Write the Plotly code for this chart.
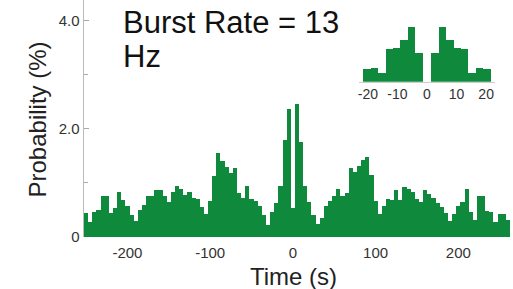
import plotly.graph_objects as go

# ---- main histogram (5 s bins, centres -250 ... 260 s) ----
bin_width = 5
first_centre = -250
prob_pct = [
    0.45, 0.27, 0.47, 0.50, 0.75, 0.75, 0.45, 0.54, 0.84, 0.69,
    0.58, 0.41, 0.30, 0.50, 0.60, 0.76, 0.76, 0.87, 0.87, 0.75,
    0.65, 0.84, 0.94, 0.89, 0.78, 0.84, 0.72, 0.71, 0.55, 0.42,
    0.66, 1.12, 1.55, 1.41, 1.30, 1.18, 1.27, 0.82, 0.72, 0.95,
    0.70, 0.66, 0.57, 0.41, 0.23, 0.47, 0.63, 0.95, 1.80, 2.37,
    0.54,
    2.45, 1.76, 0.95, 0.64, 0.40, 0.24, 0.36, 0.58, 0.67, 0.76,
    0.88, 0.75, 0.81, 1.27, 1.20, 1.31, 1.42, 1.48, 1.14, 0.67,
    0.42, 0.57, 0.70, 0.69, 0.87, 0.69, 0.93, 0.89, 0.83, 0.70,
    0.64, 0.87, 0.80, 0.73, 0.62, 0.55, 0.44, 0.29, 0.42, 0.58,
    0.65, 0.89, 0.47, 0.32, 0.75, 0.75, 0.48, 0.46, 0.28, 0.42,
    0.42, 0.32,
]
time_s = [first_centre + bin_width * i for i in range(len(prob_pct))]

x_ticks = [-200, -100, 0, 100, 200]
x_ticklabels = ["-200", "-100", "0", "100", "200"]
y_ticks = [0, 2, 4]
y_ticklabels = ["0", "2.0", "4.0"]
y_minor = [1, 3]

# ---- inset histogram (intra-burst intervals) ----
inset_width = 2.5
inset_x = [-20.25, -17.75, -15.25, -12.75, -10.25, -7.75, -5.25, -2.75,
           2.75, 5.25, 7.75, 10.25, 12.75, 15.25, 17.75, 20.25]
inset_y = [1.24, 1.40, 0.90, 3.24, 3.34, 4.17, 5.44, 2.84,
           2.84, 5.44, 4.17, 3.34, 3.24, 0.90, 1.40, 1.24]
inset_ticks = [-20, -10, 0, 10, 20]
inset_ticklabels = ["-20", "-10", "0", "10", "20"]

GREEN = "#0f8a3c"
FONT = "Liberation Sans, Arial, sans-serif"

fig = go.Figure()
fig.add_trace(go.Bar(x=time_s, y=prob_pct, width=bin_width,
                     marker=dict(color=GREEN, line=dict(width=0)),
                     xaxis="x", yaxis="y", hoverinfo="skip"))
fig.add_trace(go.Bar(x=inset_x, y=inset_y, width=inset_width,
                     marker=dict(color=GREEN, line=dict(width=0)),
                     xaxis="x2", yaxis="y2", hoverinfo="skip"))

fig.update_layout(
    template="none",
    width=513, height=289,
    margin=dict(l=84, r=3, t=0, b=52, autoexpand=False),
    plot_bgcolor="white", paper_bgcolor="white",
    showlegend=False, bargap=0,
    font=dict(family=FONT, color="#222"),
    xaxis=dict(
        automargin=False,
        range=[-252.5, 262.5], tickvals=x_ticks, ticktext=x_ticklabels,
        showline=False, zeroline=False, showgrid=False,
        ticks="outside", ticklen=2, tickcolor="rgba(0,0,0,0)",
        tickfont=dict(size=15, color="#333"),
    ),
    yaxis=dict(
        automargin=False,
        range=[0, 4.38], tickvals=y_ticks, ticktext=y_ticklabels,
        showline=True, linecolor="#bbbbbb", linewidth=1.5,
        zeroline=False, showgrid=False,
        ticks="inside", ticklen=5, tickcolor="#aaaaaa",
        minor=dict(tickvals=y_minor, ticks="inside", ticklen=4, tickcolor="#aaaaaa"),
        tickfont=dict(size=15, color="#333"),
    ),
    xaxis2=dict(
        automargin=False,
        domain=[0.6455, 0.9648], anchor="y2",
        range=[-23, 23], tickvals=inset_ticks, ticktext=inset_ticklabels,
        showline=True, linecolor="#cccccc", linewidth=1,
        zeroline=False, showgrid=False, ticks="",
        tickfont=dict(size=14, color="#333"),
    ),
    yaxis2=dict(
        automargin=False,
        domain=[0.6553, 0.9084], anchor="x2",
        range=[0, 6], visible=False,
    ),
    annotations=[
        dict(text="Burst Rate = 13", xref="paper", yref="paper",
             x=0.088, y=0.905, xanchor="left", yanchor="middle",
             showarrow=False, font=dict(size=31, color="#111")),
        dict(text="Hz", xref="paper", yref="paper",
             x=0.088, y=0.761, xanchor="left", yanchor="middle",
             showarrow=False, font=dict(size=31, color="#111")),
        # axis titles
        dict(text="Time (s)", xref="paper", yref="paper",
             x=(293 - 84) / 426, y=-(276.5 - 237) / 237,
             xanchor="center", yanchor="middle",
             showarrow=False, font=dict(size=24, color="#222")),
        dict(text="Probability (%)", xref="paper", yref="paper",
             x=-(84 - 37) / 426, y=(237 - 119.5) / 237,
             xanchor="center", yanchor="middle", textangle=-90,
             showarrow=False, font=dict(size=24, color="#222")),
    ],
)

fig.write_html("out.html",
               config={"displayModeBar": False, "staticPlot": True},
               post_script="document.body.style.margin='0px';")
